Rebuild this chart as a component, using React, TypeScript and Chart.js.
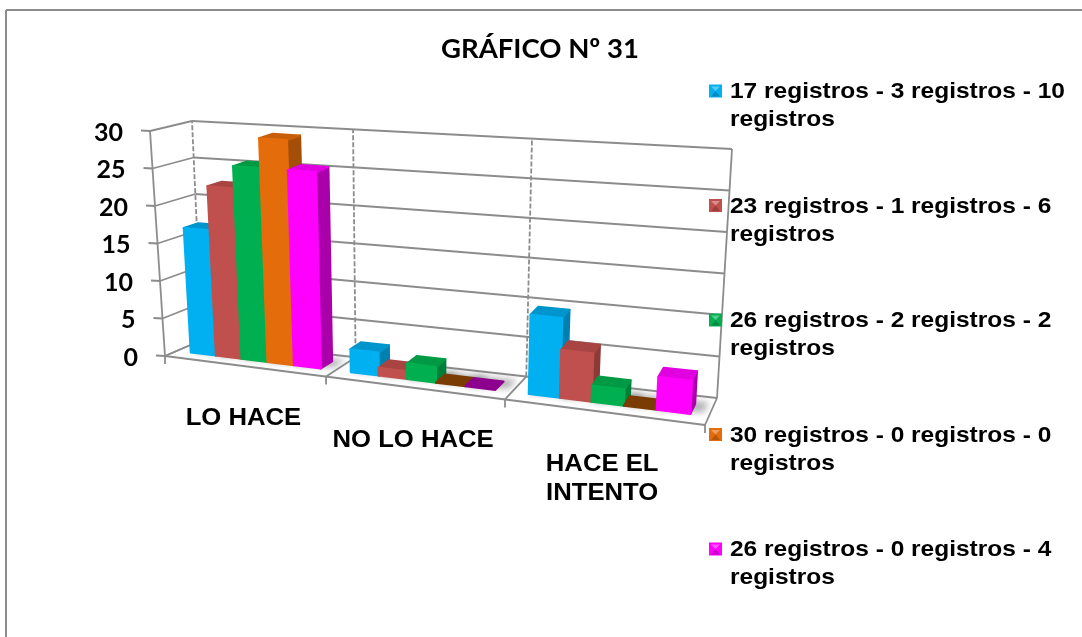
import React, { useEffect, useRef } from "react";
import { Chart, registerables } from "chart.js";

Chart.register(...registerables);

const categories = [["LO HACE"], ["NO LO HACE"], ["HACE EL", "INTENTO"]];
const seriesLabels = [
  "17 registros - 3 registros - 10 registros",
  "23 registros - 1 registros - 6 registros",
  "26 registros - 2 registros - 2 registros",
  "30 registros - 0 registros - 0 registros",
  "26 registros - 0 registros - 4 registros",
];
const seriesA = [17, 3, 10];
const seriesB = [23, 1, 6];
const seriesC = [26, 2, 2];
const seriesD = [30, 0, 0];
const seriesE = [26, 0, 4];
const seriesValues = [seriesA, seriesB, seriesC, seriesD, seriesE];

const frontColors = ["#00B0F0", "#C0504D", "#00B050", "#E46C0A", "#FF00FF"];
const sideColors = ["#0080B0", "#8C3A38", "#007F3A", "#A54E07", "#AA00AA"];
const topColors = ["#0095CC", "#A84543", "#009A45", "#C85F08", "#E000E0"];
const flatColors = ["#0080B0", "#8C3A38", "#007F3A", "#7A3C02", "#8E008E"];

const GRID = "#8C8C8C";
const LABEL_FONT = '"Liberation Sans", Arial, sans-serif';
const NUM_FONT = 'Lato, "Noto Sans", sans-serif';
const TEXT_STRETCH = 1.07;

type Pt = [number, number];
// Corners of the projected plot box: [x side][value side][depth]
const BOX: Record<string, Pt> = {
  lbf: [165, 356], lbb: [202, 340], ltf: [150, 131], ltb: [192, 121],
  rbf: [705, 425], rbb: [717, 398], rtf: [720, 171], rtb: [732, 149],
};
const K = 0.85;
const BAR_Z0 = 0.33;
const BAR_Z1 = 0.7;
const BAR_V = 0.98;

const mix = (a: Pt, b: Pt, f: number): Pt => [a[0] + (b[0] - a[0]) * f, a[1] + (b[1] - a[1]) * f];
function project(t: number, v: number, z: number): Pt {
  const s = (t * K) / (1 - t + t * K);
  const lb = mix(BOX.lbf, BOX.lbb, z);
  const lt = mix(BOX.ltf, BOX.ltb, z);
  const rb = mix(BOX.rbf, BOX.rbb, z);
  const rt = mix(BOX.rtf, BOX.rtb, z);
  return mix(mix(lb, lt, v), mix(rb, rt, v), s);
}
function poly(ctx: CanvasRenderingContext2D, pts: Pt[]) {
  ctx.beginPath();
  pts.forEach((p, i) => (i ? ctx.lineTo(p[0], p[1]) : ctx.moveTo(p[0], p[1])));
  ctx.closePath();
}
function line(ctx: CanvasRenderingContext2D, a: Pt, b: Pt, dash: number[] = []) {
  ctx.setLineDash(dash);
  ctx.beginPath();
  ctx.moveTo(a[0], a[1]);
  ctx.lineTo(b[0], b[1]);
  ctx.stroke();
  ctx.setLineDash([]);
}
function face(ctx: CanvasRenderingContext2D, pts: Pt[], color: string) {
  poly(ctx, pts);
  ctx.fillStyle = color;
  ctx.strokeStyle = color;
  ctx.lineWidth = 2.2;
  ctx.lineJoin = "round";
  ctx.fill();
  ctx.stroke();
}
function wideText(ctx: CanvasRenderingContext2D, txt: string, x: number, y: number) {
  ctx.save();
  ctx.translate(x, y);
  ctx.scale(TEXT_STRETCH, 1);
  ctx.fillText(txt, 0, 0);
  ctx.restore();
}

const scene3d = {
  id: "scene3d",
  beforeDatasetsDraw(chart: any) {
    const { ctx, chartArea: a, scales } = chart;
    const yS = scales.y;
    const n = categories.length;
    ctx.save();
    // chart frame
    ctx.strokeStyle = "#8C8C8C";
    ctx.lineWidth = 2;
    line(ctx, [6, 637], [6, 10]);
    line(ctx, [6, 10], [1082, 10]);

    ctx.strokeStyle = GRID;
    ctx.lineWidth = 1.8;
    // walls
    yS.ticks.forEach((tk: any) => {
      const v = (a.bottom - yS.getPixelForValue(tk.value)) / a.height;
      line(ctx, project(0, v, 0), project(0, v, 1));
      line(ctx, project(0, v, 1), project(1, v, 1));
      const f = project(0, v, 0);
      line(ctx, f, [f[0] - 9, f[1] - 0.5]);
    });
    line(ctx, project(0, 0, 0), project(0, 1, 0));
    line(ctx, project(1, 0, 1), project(1, 1, 1));
    for (let i = 0; i < n; i++) {
      const t = i / n;
      line(ctx, project(t, 0, 1), project(t, 1, 1), [5, 2]);
    }
    // floor
    line(ctx, project(0, 0, 0), project(1, 0, 0));
    line(ctx, project(1, 0, 0), project(1, 0, 1));
    for (let i = 0; i <= n; i++) {
      const t = i / n;
      const f = project(t, 0, 0);
      if (i < n) line(ctx, f, project(t, 0, 1));
      line(ctx, f, [f[0], f[1] + 8]);
    }
    // floor shadows
    ctx.save();
    ctx.filter = "blur(3px)";
    ctx.fillStyle = "rgba(120,120,120,0.55)";
    chart.data.datasets.forEach((_: any, di: number) => {
      chart.getDatasetMeta(di).data.forEach((bar: any) => {
        const t0 = (bar.x - bar.width / 2 - a.left) / a.width;
        const t1 = (bar.x + bar.width / 2 - a.left) / a.width;
        poly(ctx, [
          project(t0, 0, BAR_Z0),
          project(t1 + 0.02, 0, BAR_Z0 + 0.1),
          project(t1 + 0.02, 0, BAR_Z1 + 0.12),
          project(t0, 0, BAR_Z1 + 0.12),
        ]);
        ctx.fill();
      });
    });
    ctx.restore();

    // bars, left to right so that each one hides its neighbour's side
    for (let ci = 0; ci < n; ci++) {
      chart.data.datasets.forEach((_: any, di: number) => {
        const bar: any = chart.getDatasetMeta(di).data[ci];
        const t0 = (bar.x - bar.width / 2 - a.left) / a.width;
        const t1 = (bar.x + bar.width / 2 - a.left) / a.width;
        const v = ((a.bottom - bar.y) / a.height) * BAR_V;
        const flat = seriesValues[di][ci] === 0;
        if (!flat) {
          face(ctx, [project(t1, 0, BAR_Z0), project(t1, 0, BAR_Z1), project(t1, v, BAR_Z1), project(t1, v, BAR_Z0)], sideColors[di]);
        }
        face(ctx, [project(t0, v, BAR_Z0), project(t1, v, BAR_Z0), project(t1, v, BAR_Z1), project(t0, v, BAR_Z1)], flat ? flatColors[di] : topColors[di]);
        if (!flat) {
          face(ctx, [project(t0, 0, BAR_Z0), project(t1, 0, BAR_Z0), project(t1, v, BAR_Z0), project(t0, v, BAR_Z0)], frontColors[di]);
        }
      });
    }
    ctx.restore();
  },
  afterDatasetsDraw(chart: any) {
    const { ctx, chartArea: a, scales } = chart;
    const yS = scales.y;
    const xS = scales.x;
    ctx.save();
    ctx.fillStyle = "#000";
    ctx.textBaseline = "middle";
    // value axis labels
    ctx.font = `bold 25px ${NUM_FONT}`;
    ctx.textAlign = "right";
    yS.ticks.forEach((tk: any) => {
      const v = (a.bottom - yS.getPixelForValue(tk.value)) / a.height;
      const p = project(0, v, 0);
      ctx.fillText(String(tk.value), p[0] - 27, p[1] + 1.5);
    });
    // category labels
    ctx.font = `bold 24px ${LABEL_FONT}`;
    ctx.textAlign = "center";
    categories.forEach((lines, i) => {
      const t = (xS.getPixelForValue(i) - a.left) / a.width;
      const p = project(t, 0, 0);
      lines.forEach((txt, li) => wideText(ctx, txt, p[0], p[1] + 52.5 + li * 29));
    });
    // legend
    const legendX = 730;
    const legendTop = 91;
    const legendStep = 114.5;
    const maxW = 340;
    ctx.textAlign = "left";
    ctx.font = `bold 22.9px ${LABEL_FONT}`;
    chart.data.datasets.forEach((ds: any, di: number) => {
      const y = legendTop + di * legendStep;
      // wrapped text
      const words = String(ds.label).split(" ");
      const rows: string[] = [];
      let cur = "";
      words.forEach((w) => {
        const next = cur ? cur + " " + w : w;
        if (ctx.measureText(next).width * TEXT_STRETCH > maxW) {
          rows.push(cur);
          cur = w;
        } else cur = next;
      });
      rows.push(cur);
      rows.forEach((r, ri) => wideText(ctx, r, legendX, y + 1 + ri * 28));
      // bevelled marker
      const x0 = 709, y0 = y - 6.5, sz = 13;
      ctx.fillStyle = frontColors[di];
      ctx.fillRect(x0, y0, sz, sz);
      ctx.fillStyle = "rgba(255,255,255,0.35)";
      poly(ctx, [[x0 + 2, y0 + 2], [x0 + sz - 2, y0 + 2], [x0 + sz / 2, y0 + sz / 2]]);
      ctx.fill();
      ctx.fillStyle = "rgba(0,0,0,0.2)";
      poly(ctx, [[x0 + 2, y0 + sz - 1], [x0 + sz - 2, y0 + sz - 1], [x0 + sz / 2, y0 + sz / 2]]);
      ctx.fill();
      ctx.fillStyle = "#000";
    });
    ctx.restore();
  },
};

export default function App() {
  const ref = useRef<HTMLCanvasElement>(null);
  useEffect(() => {
    document.body.style.margin = "0";
    document.body.style.background = "#fff";
    const chart = new Chart(ref.current!, {
      type: "bar",
      data: {
        labels: categories as any,
        datasets: seriesValues.map((vals, i) => ({
          label: seriesLabels[i],
          data: vals,
          backgroundColor: "rgba(0,0,0,0)",
          borderWidth: 0,
          categoryPercentage: 0.82,
          barPercentage: 1,
        })),
      },
      options: {
        responsive: false,
        animation: false,
        layout: { padding: { left: 100, right: 102, top: 33, bottom: 100 } },
        plugins: {
          legend: { display: false },
          tooltip: { enabled: false },
          title: {
            display: true,
            text: "GRÁFICO Nº 31",
            color: "#000",
            font: { family: NUM_FONT, size: 27.5, weight: "bold" },
            padding: { top: 0, bottom: 0 },
          },
        },
        scales: {
          x: { display: false },
          y: { display: false, min: 0, max: 30, ticks: { stepSize: 5 } },
        },
      },
      plugins: [scene3d],
    } as any);
    return () => chart.destroy();
  }, []);
  return (
    <div style={{ width: 1082, height: 637, overflow: "hidden", background: "#fff" }}>
      <canvas ref={ref} width={1082} height={637} style={{ display: "block" }} />
    </div>
  );
}
